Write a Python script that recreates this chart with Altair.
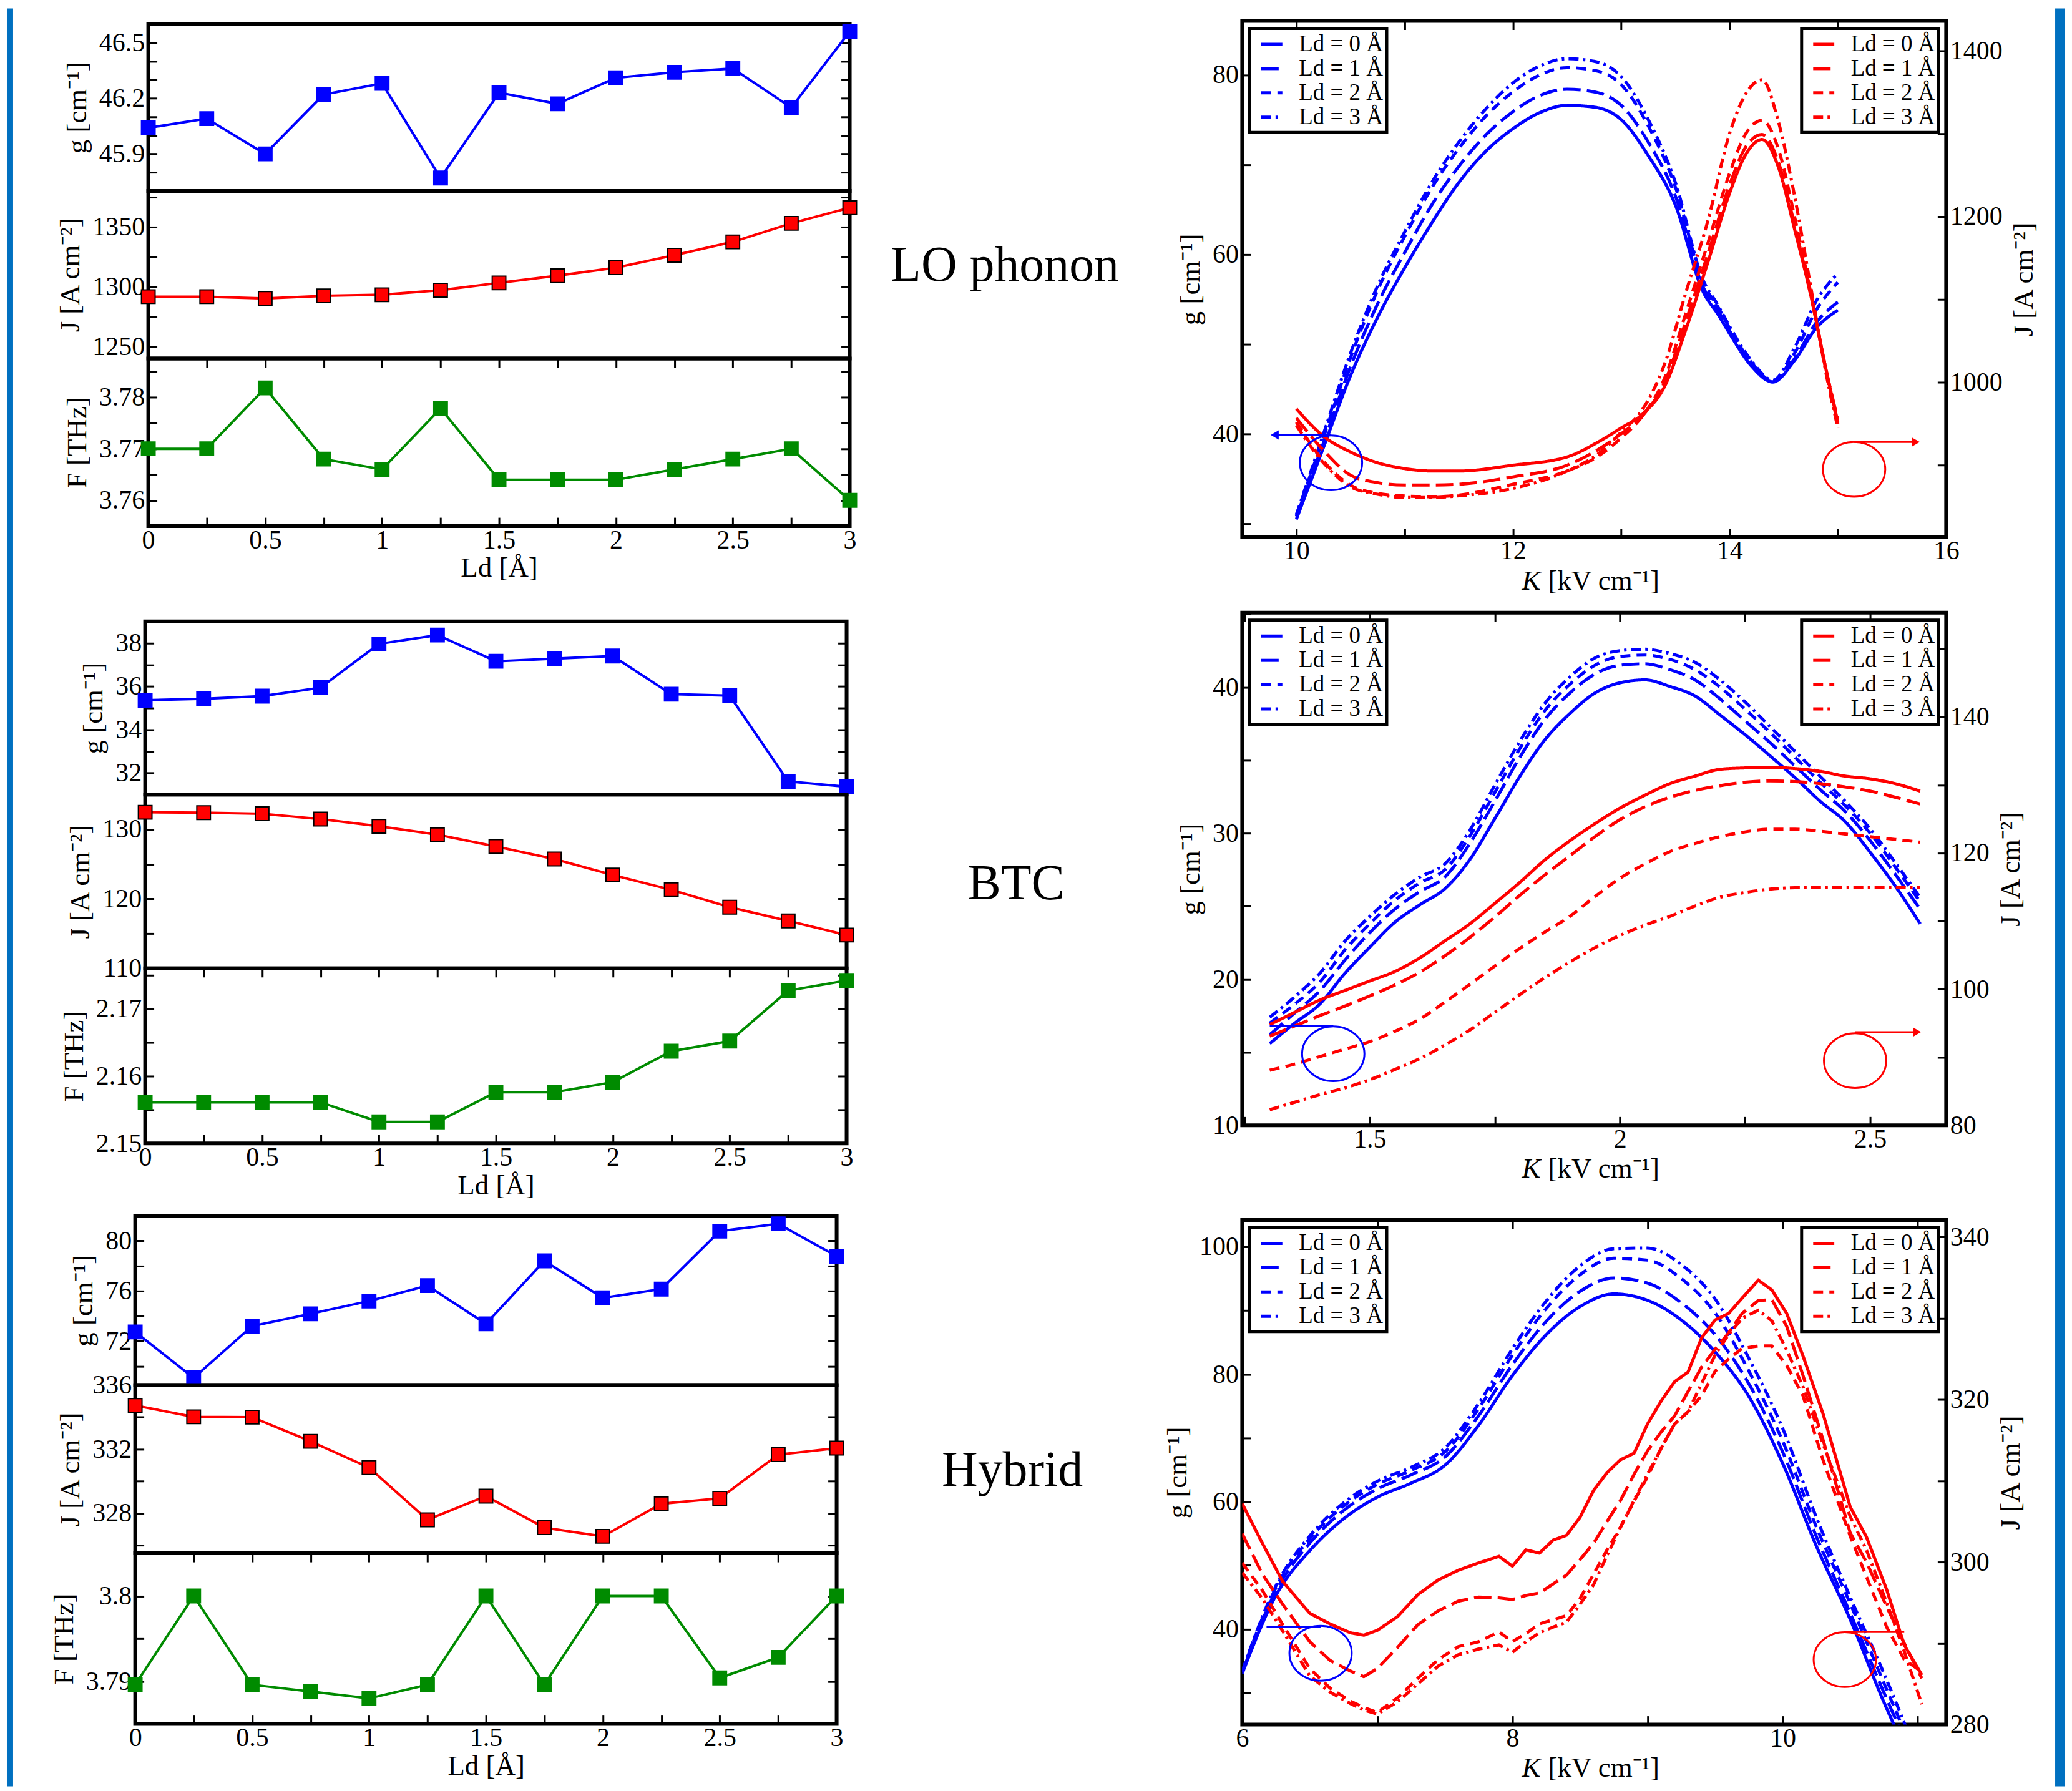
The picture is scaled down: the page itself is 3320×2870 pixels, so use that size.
import json
import altair as alt
import pandas as pd

FONT = "Liberation Serif"
BLUE = "#0000FF"
RED = "#FF0000"
GREEN = "#008B00"
STRIPE = "#0070C0"

# ---------------- left panels: quantities versus Ld ----------------
ld = [0, 0.25, 0.5, 0.75, 1, 1.25, 1.5, 1.75, 2, 2.25, 2.5, 2.75, 3]

lo_g = [46.04, 46.09, 45.90, 46.22, 46.28, 45.77, 46.23, 46.17, 46.31, 46.34, 46.36, 46.15, 46.56]
lo_j = [1291.7, 1291.7, 1290.2, 1292.4, 1293.3, 1297.1, 1303.2, 1309.2, 1315.9, 1326.3, 1337.5, 1353.0, 1366.0]
lo_f = [3.770, 3.770, 3.7818, 3.768, 3.766, 3.7778, 3.764, 3.764, 3.764, 3.766, 3.768, 3.770, 3.760]

btc_g = [35.36, 35.43, 35.55, 35.94, 37.96, 38.37, 37.16, 37.28, 37.40, 35.64, 35.57, 31.61, 31.36]
btc_j = [132.46, 132.40, 132.24, 131.48, 130.44, 129.23, 127.54, 125.74, 123.44, 121.31, 118.80, 116.83, 114.80]
btc_f = [2.1561, 2.1561, 2.1561, 2.1561, 2.1532, 2.1532, 2.1576, 2.1576, 2.1591, 2.1637, 2.1652, 2.1727, 2.1742]

hyb_g = [72.74, 69.08, 73.20, 74.18, 75.20, 76.43, 73.38, 78.40, 75.45, 76.15, 80.77, 81.35, 78.77]
hyb_j = [334.73, 334.02, 334.00, 332.49, 330.85, 327.59, 329.07, 327.10, 326.56, 328.59, 328.93, 331.66, 332.07]
hyb_f = [3.7896, 3.8000, 3.7896, 3.7888, 3.7880, 3.7896, 3.8000, 3.7896, 3.8000, 3.8000, 3.7904, 3.7928, 3.8000]

LD_TICKS = [0, 0.25, 0.5, 0.75, 1, 1.25, 1.5, 1.75, 2, 2.25, 2.5, 2.75, 3]
LD_TICK_LABELS = [0, 0.5, 1, 1.5, 2, 2.5, 3]

# ---------------- right panels: g and J versus K ----------------
LD_LABELS = ["Ld = 0 Å", "Ld = 1 Å", "Ld = 2 Å", "Ld = 3 Å"]

lo_k_blue = [10.0, 10.25, 10.5, 10.75, 11.0, 11.25, 11.5, 11.75, 12.0, 12.25, 12.5, 12.75,
             13.0, 13.25, 13.5, 13.75, 13.9, 14.0, 14.2, 14.4, 14.6, 14.8, 15.0]
lo_gk_0 = [30.5, 38.5, 46.5, 53.0, 58.5, 63.5, 68.0, 71.5, 74.0, 75.8, 76.6, 76.4, 75.0, 71.0, 65.5, 56.0, 53.2, 51.2, 47.6, 45.8, 48.2, 51.8, 53.8]
lo_gk_1 = [30.8, 39.0, 47.5, 54.5, 60.2, 65.5, 69.8, 73.3, 75.9, 77.7, 78.4, 78.1, 76.6, 72.5, 66.5, 56.5, 53.6, 51.5, 47.8, 45.8, 48.4, 52.4, 54.7]
lo_gk_2 = [31.0, 39.6, 48.5, 56.0, 62.0, 67.4, 71.8, 75.4, 78.1, 80.0, 80.8, 80.5, 78.9, 74.3, 67.5, 57.0, 54.0, 51.8, 48.0, 45.9, 49.0, 53.8, 56.9]
lo_gk_3 = [31.0, 40.0, 49.0, 56.5, 62.5, 68.0, 72.5, 76.2, 79.1, 81.0, 81.8, 81.5, 79.8, 75.0, 68.0, 57.3, 54.2, 52.0, 48.2, 46.0, 49.6, 54.8, 57.9]

lo_k_red = [10.0, 10.25, 10.5, 10.75, 11.0, 11.25, 11.5, 12.0, 12.5, 12.8, 13.0, 13.2,
            13.4, 13.6, 13.8, 14.0, 14.15, 14.3, 14.45, 14.6, 14.75, 14.9, 15.0]
lo_jk_0 = [968, 935, 916, 903, 896, 893, 893, 900, 910, 929, 945, 962, 995, 1065, 1145, 1228, 1275, 1293, 1260, 1185, 1105, 1010, 952]
lo_jk_1 = [957, 918, 888, 879, 876, 876, 877, 886, 900, 920, 938, 960, 1000, 1075, 1155, 1238, 1284, 1299, 1266, 1190, 1105, 1010, 955]
lo_jk_2 = [952, 905, 876, 866, 863, 862, 864, 877, 893, 912, 933, 960, 1005, 1085, 1168, 1252, 1300, 1316, 1282, 1200, 1108, 1008, 950]
lo_jk_3 = [948, 903, 874, 865, 861, 861, 863, 872, 893, 915, 940, 968, 1022, 1110, 1195, 1300, 1348, 1365, 1315, 1225, 1115, 1005, 945]

btc_k = [1.3, 1.35, 1.4, 1.45, 1.5, 1.55, 1.6, 1.65, 1.7, 1.75, 1.8, 1.85, 1.9, 1.95,
         2.0, 2.05, 2.1, 2.15, 2.2, 2.25, 2.3, 2.35, 2.4, 2.45, 2.5, 2.55, 2.6]
btc_gk_0 = [15.6, 17.0, 18.3, 20.4, 22.2, 23.9, 25.1, 26.2, 28.2, 31.0, 33.9, 36.4, 38.2, 39.6, 40.3, 40.5, 40.05, 39.4, 38.1, 36.75, 35.3, 33.8, 32.2, 30.8, 28.7, 26.4, 23.8]
btc_gk_1 = [16.2, 17.7, 19.2, 21.3, 23.2, 24.8, 26.0, 27.0, 29.3, 32.2, 35.2, 37.8, 39.6, 40.9, 41.5, 41.6, 41.2, 40.5, 39.2, 37.7, 36.2, 34.6, 33.0, 31.5, 29.5, 27.2, 24.8]
btc_gk_2 = [17.0, 18.3, 19.8, 22.0, 23.8, 25.4, 26.6, 27.5, 29.8, 32.8, 35.8, 38.4, 40.2, 41.5, 42.1, 42.2, 41.9, 41.2, 40.0, 38.5, 36.9, 35.2, 33.5, 31.9, 30.0, 27.7, 25.3]
btc_gk_3 = [17.4, 18.8, 20.4, 22.6, 24.3, 25.8, 27.0, 27.9, 30.2, 33.3, 36.3, 38.9, 40.7, 42.0, 42.5, 42.6, 42.3, 41.7, 40.5, 39.0, 37.3, 35.6, 33.9, 32.2, 30.3, 28.0, 25.6]
btc_jk_0 = [94.8, 96.6, 98.4, 99.8, 101.2, 102.6, 104.6, 107.1, 109.6, 112.6, 115.7, 119.0, 121.8, 124.3, 126.6, 128.5, 130.2, 131.3, 132.3, 132.5, 132.6, 132.4, 132.0, 131.3, 130.9, 130.2, 129.1]
btc_jk_1 = [93.1, 94.6, 96.1, 97.5, 99.0, 100.6, 102.5, 104.9, 107.6, 110.6, 113.8, 116.8, 119.6, 122.4, 124.9, 126.8, 128.2, 129.2, 129.9, 130.4, 130.6, 130.5, 130.2, 129.7, 129.1, 128.2, 127.2]
btc_jk_2 = [88.1, 89.0, 90.1, 91.2, 92.3, 93.8, 95.6, 98.1, 100.7, 103.4, 106.0, 108.4, 110.7, 113.6, 116.3, 118.4, 120.2, 121.4, 122.4, 123.1, 123.5, 123.5, 123.2, 122.8, 122.4, 122.0, 121.6]
btc_jk_3 = [82.3, 83.4, 84.5, 85.5, 86.7, 88.2, 89.8, 91.8, 94.0, 96.6, 99.2, 101.7, 104.0, 106.1, 107.9, 109.4, 110.7, 112.2, 113.5, 114.2, 114.7, 114.9, 114.9, 114.9, 114.9, 114.9, 114.9]

hyb_k_blue = [6.0, 6.25, 6.5, 6.75, 7.0, 7.25, 7.5, 7.75, 8.0, 8.25, 8.5, 8.75, 9.0, 9.25,
              9.5, 9.75, 10.0, 10.25, 10.5, 10.75, 11.0]
hyb_gk_0 = [33.0, 45.3, 52.3, 57.3, 60.7, 62.9, 65.7, 72.0, 79.8, 86.2, 90.6, 92.6, 91.6, 88.5, 83.5, 76.5, 66.0, 53.0, 41.5, 28.5, 17.0]
hyb_gk_1 = [33.2, 46.0, 53.5, 58.6, 62.0, 64.2, 67.0, 73.5, 81.5, 88.3, 93.0, 95.1, 94.3, 91.2, 86.2, 78.5, 67.8, 54.5, 42.5, 30.0, 18.0]
hyb_gk_2 = [33.3, 46.5, 54.2, 59.3, 62.7, 64.9, 67.8, 74.6, 83.0, 90.3, 95.6, 98.2, 97.9, 95.0, 89.6, 80.5, 69.5, 56.0, 44.0, 31.5, 19.0]
hyb_gk_3 = [33.4, 46.8, 54.6, 59.8, 63.2, 65.4, 68.4, 75.4, 84.0, 91.5, 97.0, 99.7, 99.8, 97.2, 91.8, 82.5, 71.5, 57.5, 45.0, 33.0, 20.0]

hyb_k_red = [6.0, 6.15, 6.3, 6.5, 6.65, 6.8, 6.9, 7.0, 7.15, 7.3, 7.45, 7.6, 7.75, 7.9, 8.0,
             8.1, 8.2, 8.3, 8.4, 8.5, 8.6, 8.7, 8.8, 8.9, 9.0, 9.1, 9.2, 9.3, 9.4, 9.5, 9.6,
             9.7, 9.82, 9.92, 10.03, 10.15, 10.3, 10.5, 10.62, 10.77, 10.9, 11.03]
hyb_jk_0 = [307.2, 302.3, 297.6, 293.7, 292.4, 291.3, 291.0, 291.6, 293.3, 296.0, 297.8, 299.0, 299.9, 300.7, 299.5,
            301.5, 301.1, 302.7, 303.3, 305.5, 308.8, 311.0, 312.6, 313.4, 317.0, 319.8, 322.2, 323.4, 327.6, 329.8,
            330.6, 332.5, 334.7, 333.5, 330.6, 325.4, 318.2, 306.8, 303.1, 296.6, 289.8, 286.1]
hyb_jk_1 = [303.5, 298.5, 294.8, 290.2, 287.9, 286.6, 285.9, 286.9, 289.5, 292.3, 294.0, 295.2, 295.7, 295.6, 295.4,
            295.9, 296.2, 297.3, 298.4, 300.3, 302.3, 305.0, 307.6, 310.8, 313.7, 316.0, 318.0, 321.0, 324.0, 326.2,
            328.2, 330.6, 332.2, 332.3, 329.0, 323.0, 315.0, 303.6, 300.0, 294.5, 290.0, 285.7]
hyb_jk_2 = [299.9, 296.5, 292.3, 286.9, 284.5, 282.9, 282.1, 281.5, 283.3, 285.7, 288.0, 289.6, 290.2, 291.4, 290.2,
            291.2, 292.4, 292.9, 293.4, 295.5, 298.5, 301.5, 304.3, 307.5, 310.5, 314.0, 317.0, 318.5, 320.5, 323.5,
            325.0, 326.3, 326.6, 326.6, 324.2, 320.5, 312.5, 303.2, 298.2, 292.0, 288.0, 286.5]
hyb_jk_3 = [298.7, 295.5, 291.5, 286.0, 284.0, 282.6, 281.8, 281.3, 282.8, 285.0, 287.2, 288.6, 289.3, 289.8, 288.9,
            290.2, 291.3, 292.0, 292.6, 294.8, 297.2, 300.8, 304.3, 307.6, 310.8, 314.0, 317.0, 318.5, 322.0, 325.5,
            328.0, 330.0, 331.0, 329.7, 326.1, 321.6, 314.5, 305.6, 301.5, 295.0, 289.0, 282.5]

ROW_LABELS = ["LO phonon", "BTC", "Hybrid"]
K_TITLE = ["K", "[kV cm⁻¹]"]

# ---------------- style / layout ----------------
DASHES = [[1, 0], [28, 10], [16, 10], [16, 7, 4, 7]]
ELLIPSE = "M -1 0 A 1 0.88 0 1 0 1 0 A 1 0.88 0 1 0 -1 0 Z"
TICK = 14
LW = 1126
RW = 1130


def lab_expr(labels):
    return "indexof(" + json.dumps(labels) + ", datum.value) >= 0 ? format(datum.value, '~g') : ''"


def make_axis(orient, values, labels=None, title=None, **extra):
    kw = dict(orient=orient, values=values, domain=False, grid=False,
              tickColor="black", tickWidth=3, tickSize=TICK, offset=-TICK,
              labelFont=FONT, labelFontSize=42, labelColor="black",
              labelPadding=6, labelOverlap=False, labelFlush=False,
              titleFont=FONT, titleFontSize=45, titleFontWeight="normal",
              titleColor="black", titlePadding=12)
    if labels:
        kw["labelExpr"] = lab_expr(labels)
        kw["title"] = title
    else:
        kw["labels"] = False
        kw["title"] = None
    kw.update(extra)
    return alt.Axis(**kw)


def left_panel(values, color, mstroke, ytitle, dom, yticks, ylabels, height, bottom):
    df = pd.DataFrame({"Ld": ld, "v": values})
    xs = alt.Scale(domain=[0, 3], nice=False, zero=False)
    ys = alt.Scale(domain=dom, nice=False, zero=False)
    pt = alt.OverlayMarkDef(shape="square", size=480, filled=True, fill=color,
                            stroke=mstroke, strokeWidth=2, opacity=1)
    xa = (make_axis("bottom", LD_TICKS, LD_TICK_LABELS, "Ld [Å]", labelPadding=2, titlePadding=2)
          if bottom else None)
    line = alt.Chart(df).mark_line(color=color, strokeWidth=4, point=pt).encode(
        x=alt.X("Ld:Q", scale=xs, axis=xa),
        y=alt.Y("v:Q", scale=ys, axis=make_axis("left", yticks, ylabels, ytitle)),
    )
    xm = make_axis("top", LD_TICKS) if bottom else None
    mirror = alt.Chart(df).mark_point(opacity=0).encode(
        x=alt.X("Ld:Q", scale=xs, axis=xm),
        y=alt.Y("v:Q", scale=ys, axis=make_axis("right", yticks)),
    )
    return (alt.layer(line, mirror)
            .resolve_axis(x="independent", y="independent")
            .properties(width=LW, height=height))


def spacer(w, h):
    return alt.Chart(pd.DataFrame({"s": [0]})).mark_point(opacity=0).properties(
        width=w, height=h, view=alt.ViewBackground(stroke="transparent"))


def left_group(g, j, f, gspec, jspec, fspec, heights, offset):
    p1 = left_panel(g, BLUE, BLUE, "g [cm⁻¹]", *gspec, heights[0], False)
    p2 = left_panel(j, RED, "black", "J [A cm⁻²]", *jspec, heights[1], False)
    p3 = left_panel(f, GREEN, GREEN, "F [THz]", *fspec, heights[2], True)
    stack = alt.vconcat(p1, p2, p3, spacing=0, bounds="flush")
    if offset:
        return alt.hconcat(spacer(offset, 10), stack, spacing=0, bounds="flush")
    return stack


def long_df(kvals, series, name):
    rows = []
    for lab, s in zip(LD_LABELS, series):
        for k, v in zip(kvals, s):
            rows.append({"K": k, name: v, "Ld": lab})
    return pd.DataFrame(rows)


def legend(orient, color):
    return alt.Legend(orient=orient, offset=12, title=None, symbolType="stroke",
                      symbolStrokeColor=color, symbolStrokeWidth=5, symbolSize=1150,
                      symbolOffset=10, symbolOpacity=1, labelFont=FONT, labelFontSize=37,
                      labelColor="black", labelLimit=400, labelOffset=24,
                      strokeColor="black", fillColor="white", padding=6, rowPadding=1)


def right_chart(kb, blue, kr, red, xdom, gdom, jdom, xt, xl, gt, gl, jt, jl,
                ann, label, lxy, height, red_interp, extra=()):
    bdf = long_df(kb, blue, "g")
    rdf = long_df(kr, red, "J")
    xs = alt.Scale(domain=xdom, nice=False, zero=False)
    gs = alt.Scale(domain=gdom, nice=False, zero=False)
    js = alt.Scale(domain=jdom, nice=False, zero=False)
    ds = alt.Scale(domain=LD_LABELS, range=DASHES)

    bl = alt.Chart(bdf).mark_line(color=BLUE, strokeWidth=5, clip=True, interpolate="monotone").encode(
        x=alt.X("K:Q", scale=xs, axis=make_axis("bottom", xt, xl, None, labelPadding=2)),
        y=alt.Y("g:Q", scale=gs, axis=make_axis("left", gt, gl, "g [cm⁻¹]")),
        strokeDash=alt.StrokeDash("Ld:N", scale=ds, legend=legend("top-left", BLUE)),
    )
    rl = alt.Chart(rdf).mark_line(color=RED, strokeWidth=5, clip=True, interpolate=red_interp).encode(
        x=alt.X("K:Q", scale=xs, axis=None),
        y=alt.Y("J:Q", scale=js, axis=make_axis("right", jt, jl, "J [A cm⁻²]",
                                                   titleAngle=270, titleBaseline="top")),
        strokeDash=alt.StrokeDash("Ld:N", scale=ds, legend=legend("top-right", RED)),
    )
    top = alt.Chart(pd.DataFrame({"K": xdom, "g": gdom})).mark_point(opacity=0).encode(
        x=alt.X("K:Q", scale=xs, axis=make_axis("top", xt)),
        y=alt.Y("g:Q", scale=gs, axis=None),
    )
    layers = [bl, rl, top]
    for side, color, sc, fld in (("b", BLUE, gs, "g"), ("r", RED, js, "J")):
        kc, vc_ = ann[side + "c"]
        layers.append(alt.Chart(pd.DataFrame({"K": [kc], fld: [vc_]})).mark_point(
            shape=ELLIPSE, size=10000, filled=False, color=color, stroke=color,
            strokeWidth=3, opacity=1).encode(
            x=alt.X("K:Q", scale=xs, axis=None), y=alt.Y(fld + ":Q", scale=sc, axis=None)))
        k1, k2, vl = ann[side + "l"]
        layers.append(alt.Chart(pd.DataFrame({"K": [k1], "K2": [k2], fld: [vl]})).mark_rule(
            color=color, strokeWidth=3).encode(
            x=alt.X("K:Q", scale=xs, axis=None), x2="K2:Q",
            y=alt.Y(fld + ":Q", scale=sc, axis=None)))
        head = ann.get(side + "a")
        if head:
            layers.append(alt.Chart(pd.DataFrame({"K": [k2], fld: [vl]})).mark_point(
                shape=head, size=220, filled=True, color=color, opacity=1).encode(
                x=alt.X("K:Q", scale=xs, axis=None), y=alt.Y(fld + ":Q", scale=sc, axis=None)))
    # row label in the middle column
    layers.append(alt.Chart(pd.DataFrame({"label": [label]})).mark_text(
        font=FONT, fontSize=80, color="black", align="center", baseline="middle").encode(
        x=alt.value(lxy[0]), y=alt.value(lxy[1]), text="label:N"))
    # x-axis title with italic K
    layers.append(alt.Chart(pd.DataFrame({"t": [K_TITLE[0]]})).mark_text(
        font=FONT, fontSize=45, fontStyle="italic", color="black", align="right",
        baseline="middle").encode(x=alt.value(RW / 2 - 86), y=alt.value(height + 70), text="t:N"))
    layers.append(alt.Chart(pd.DataFrame({"t": [K_TITLE[1]]})).mark_text(
        font=FONT, fontSize=45, color="black", align="left",
        baseline="middle").encode(x=alt.value(RW / 2 - 74), y=alt.value(height + 70), text="t:N"))
    layers.extend(extra)
    return (alt.layer(*layers)
            .resolve_scale(y="independent", strokeDash="independent")
            .resolve_axis(x="independent", y="independent")
            .resolve_legend(strokeDash="independent")
            .properties(width=RW, height=height))


def res(c):
    return c.resolve_scale(strokeDash="independent").resolve_legend(strokeDash="independent")


# ---------------- left column ----------------
G1 = left_group(lo_g, lo_j, lo_f,
                ([45.7, 46.6], [45.8, 45.9, 46.0, 46.1, 46.2, 46.3, 46.4, 46.5], [45.9, 46.2, 46.5]),
                ([1240, 1380], [1250, 1275, 1300, 1325, 1350, 1375], [1250, 1300, 1350]),
                ([3.755, 3.7875], [3.76, 3.765, 3.77, 3.775, 3.78, 3.785], [3.76, 3.77, 3.78]),
                [268, 269, 269], 21)
G2 = left_group(btc_g, btc_j, btc_f,
                ([31, 39], [32, 33, 34, 35, 36, 37, 38], [32, 34, 36, 38]),
                ([110, 135], [110, 115, 120, 125, 130], [110, 120, 130]),
                ([2.15, 2.176], [2.15, 2.155, 2.16, 2.165, 2.17, 2.175], [2.15, 2.16, 2.17]),
                [278, 279, 281], 16)
G3 = left_group(hyb_g, hyb_j, hyb_f,
                ([68.5, 82], [70, 72, 74, 76, 78, 80], [72, 76, 80]),
                ([325.5, 336], [326, 328, 330, 332, 334, 336], [328, 332, 336]),
                ([3.785, 3.805], [3.79, 3.795, 3.8], [3.79, 3.8]),
                [272, 270, 274], 0)
# nested concats count as zero-size cells under "flush" bounds, so spacing = origin distance
g12 = alt.vconcat(G1, G2, spacing=959, bounds="flush")
g123 = alt.vconcat(g12, G3, spacing=1913, bounds="flush")
leftcol = alt.vconcat(spacer(10, 5), g123, spacing=0, bounds="flush")

# ---------------- right column ----------------
stripes = [
    alt.Chart(pd.DataFrame({"s": [0]})).mark_rect(color=STRIPE).encode(
        x=alt.value(-1983), x2=alt.value(-1973), y=alt.value(-20), y2=alt.value(2834)),
    alt.Chart(pd.DataFrame({"s": [0]})).mark_rect(color=STRIPE).encode(
        x=alt.value(1305), x2=alt.value(1321), y=alt.value(-20), y2=alt.value(2834)),
]

R1 = right_chart(lo_k_blue, [lo_gk_0, lo_gk_1, lo_gk_2, lo_gk_3],
                 lo_k_red, [lo_jk_0, lo_jk_1, lo_jk_2, lo_jk_3],
                 [9.5, 16], [28.5, 86], [813, 1436],
                 [10, 11, 12, 13, 14, 15, 16], [10, 12, 14, 16],
                 [30, 40, 50, 60, 70, 80], [40, 60, 80],
                 [900, 1000, 1100, 1200, 1300, 1400], [1000, 1200, 1400],
                 {"bc": (10.32, 36.8), "bl": (10.32, 9.8, 39.9), "ba": "triangle-left",
                  "rc": (15.15, 895), "rl": (15.15, 15.72, 928), "ra": "triangle-right"},
                 ROW_LABELS[0], (-381, 393), 829, "monotone", stripes)
R2 = right_chart(btc_k, [btc_gk_0, btc_gk_1, btc_gk_2, btc_gk_3],
                 btc_k, [btc_jk_0, btc_jk_1, btc_jk_2, btc_jk_3],
                 [1.245, 2.652], [10, 45.1], [80, 155.3],
                 [1.25, 1.5, 1.75, 2, 2.25, 2.5], [1.5, 2, 2.5],
                 [10, 15, 20, 25, 30, 35, 40, 45], [10, 20, 30, 40],
                 [80, 90, 100, 110, 120, 130, 140, 150], [80, 100, 120, 140],
                 {"bc": (1.427, 14.9), "bl": (1.427, 1.30, 16.8),
                  "rc": (2.47, 89.5), "rl": (2.47, 2.594, 93.7), "ra": "triangle-right"},
                 ROW_LABELS[1], (-363, 436), 823, "monotone")
R3 = right_chart(hyb_k_blue, [hyb_gk_0, hyb_gk_1, hyb_gk_2, hyb_gk_3],
                 hyb_k_red, [hyb_jk_0, hyb_jk_1, hyb_jk_2, hyb_jk_3],
                 [6, 11.21], [25, 104.2], [280, 342.1],
                 [6, 7, 8, 9, 10, 11], [6, 8, 10],
                 [30, 40, 50, 60, 70, 80, 90, 100], [40, 60, 80, 100],
                 [280, 290, 300, 310, 320, 330, 340], [280, 300, 320, 340],
                 {"bc": (6.58, 36.2), "bl": (6.58, 6.18, 40.3),
                  "rc": (10.46, 288.0), "rl": (10.46, 10.9, 291.4)},
                 ROW_LABELS[2], (-369, 403), 810, "linear")
top2 = res(alt.vconcat(R1, R2, spacing=121, bounds="flush"))
rightcol = res(alt.vconcat(top2, R3, spacing=1925, bounds="flush"))

chart = (res(alt.hconcat(leftcol, rightcol, spacing=1777, bounds="flush"))
         .properties(padding=0, background="white")
         .configure_view(stroke="black", strokeWidth=6)
         .configure_legend(strokeWidth=5))

chart.save("out.html", embed_options={"renderer": "svg", "actions": False})
